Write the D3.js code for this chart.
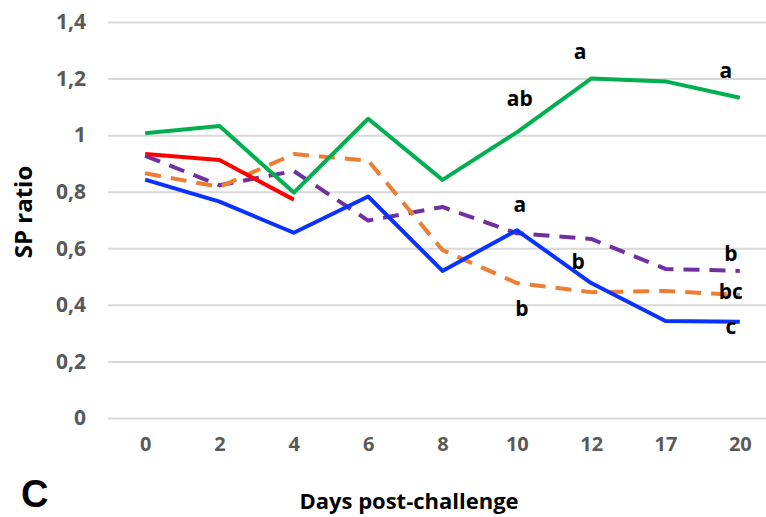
<!DOCTYPE html>
<meta charset="utf-8">
<style>
 body { margin: 0; background: #fff; }
 text { font-family: "Open Sans", "Liberation Sans", sans-serif; font-weight: bold; }
 .grid line { stroke: #d9d9d9; stroke-width: 2; }
 .tick text { fill: #595959; }
</style>
<body>
<script src="https://d3js.org/d3.v7.min.js"></script>
<script>

 // categories on the x axis (days post-challenge)
 var days = ["0", "2", "4", "6", "8", "10", "12", "17", "20"];
 var yTicks = [0, 0.2, 0.4, 0.6, 0.8, 1, 1.2, 1.4];

 // series values
 var greenVals  = [1.007, 1.032, 0.797, 1.058, 0.842, 1.01, 1.2, 1.19, 1.132];
 var redVals    = [0.933, 0.912, 0.772];
 var blueVals   = [0.843, 0.765, 0.655, 0.783, 0.52, 0.664, 0.477, 0.343, 0.34];
 var orangeVals = [0.865, 0.817, 0.933, 0.91, 0.594, 0.477, 0.445, 0.449, 0.435];
 var purpleVals = [0.927, 0.823, 0.873, 0.698, 0.746, 0.653, 0.633, 0.527, 0.52];

 // significance letters: [series, day, letter]
 var letters = [
     ["green", "10", "ab"],
     ["green", "12", "a"],
     ["green", "20", "a"],
     ["blue", "10", "a"],
     ["blue", "12", "b"],
     ["orange", "10", "b"],
     ["purple", "20", "b"],
     ["orange", "20", "bc"],
     ["blue", "20", "c"]
 ];

 var width = 766, height = 517;

 var series = {
     purple: { values: purpleVals, color: "#7030a0", dash: "16,10" },
     orange: { values: orangeVals, color: "#ed7d31", dash: "16,10" },
     blue:   { values: blueVals,   color: "#0a32ff", dash: null },
     red:    { values: redVals,    color: "#ff0000", dash: null },
     green:  { values: greenVals,  color: "#00b050", dash: null }
 };

 // letter offsets relative to their point
 var letterOffset = {
     "green10": [3, -26], "green12": [-11, -20], "green20": [-14, -20],
     "blue10": [3, -18], "blue12": [-13, -14], "orange10": [5, 33],
     "purple20": [-9, -10], "orange20": [-9, 4], "blue20": [-9, 12]
 };

 var xScale = d3.scalePoint()
                .domain(days)
                .range([108, 777])
                .padding(0.5);

 var yScale = d3.scaleLinear()
                .domain([0, 1.4])
                .range([418, 22]);

 var svg = d3.select("body").append("svg")
             .attr("width", width)
             .attr("height", height);

 // gridlines + y labels
 var gY = svg.append("g")
             .attr("class", "grid")
             .attr("transform", "translate(108,0)")
             .call(d3.axisLeft(yScale)
                     .tickValues(yTicks)
                     .tickSize(-669)
                     .tickPadding(22)
                     .tickFormat(function(d) { return d3.format("")(d).replace(".", ","); }));
 gY.select(".domain").remove();
 gY.selectAll(".tick text").attr("font-size", 21);

 // x labels
 var gX = svg.append("g")
             .attr("transform", "translate(0,418)")
             .call(d3.axisBottom(xScale).tickSize(0).tickPadding(19));
 gX.select(".domain").remove();
 gX.selectAll(".tick text").attr("font-size", 20);

 var line = d3.line()
              .x(function(d, i) { return xScale(days[i]); })
              .y(function(d) { return yScale(d); });

 Object.keys(series).forEach(function(k) {
     var s = series[k];
     svg.append("path")
        .datum(s.values)
        .attr("fill", "none")
        .attr("stroke", s.color)
        .attr("stroke-width", 4)
        .attr("stroke-linejoin", "round")
        .attr("stroke-dasharray", s.dash)
        .attr("d", line);
 });

 svg.selectAll(".letter")
    .data(letters)
    .enter().append("text")
    .attr("class", "letter")
    .attr("text-anchor", "middle")
    .attr("font-size", 21)
    .attr("fill", "#000")
    .attr("x", function(d) {
        return xScale(d[1]) + letterOffset[d[0] + d[1]][0];
    })
    .attr("y", function(d) {
        var v = series[d[0]].values[days.indexOf(d[1])];
        return yScale(v) + letterOffset[d[0] + d[1]][1];
    })
    .text(function(d) { return d[2]; });

 // axis titles
 svg.append("text")
    .attr("transform", "translate(32,212) rotate(-90)")
    .attr("text-anchor", "middle")
    .attr("font-size", 24)
    .text("SP ratio");

 svg.append("text")
    .attr("x", 409)
    .attr("y", 509)
    .attr("text-anchor", "middle")
    .attr("font-size", 22)
    .text("Days post-challenge");

 svg.append("text")
    .attr("x", 21)
    .attr("y", 507)
    .style("font-size", "38px")
    .style("font-family", "'Liberation Sans', Arial, sans-serif")
    .text("C");

</script>
